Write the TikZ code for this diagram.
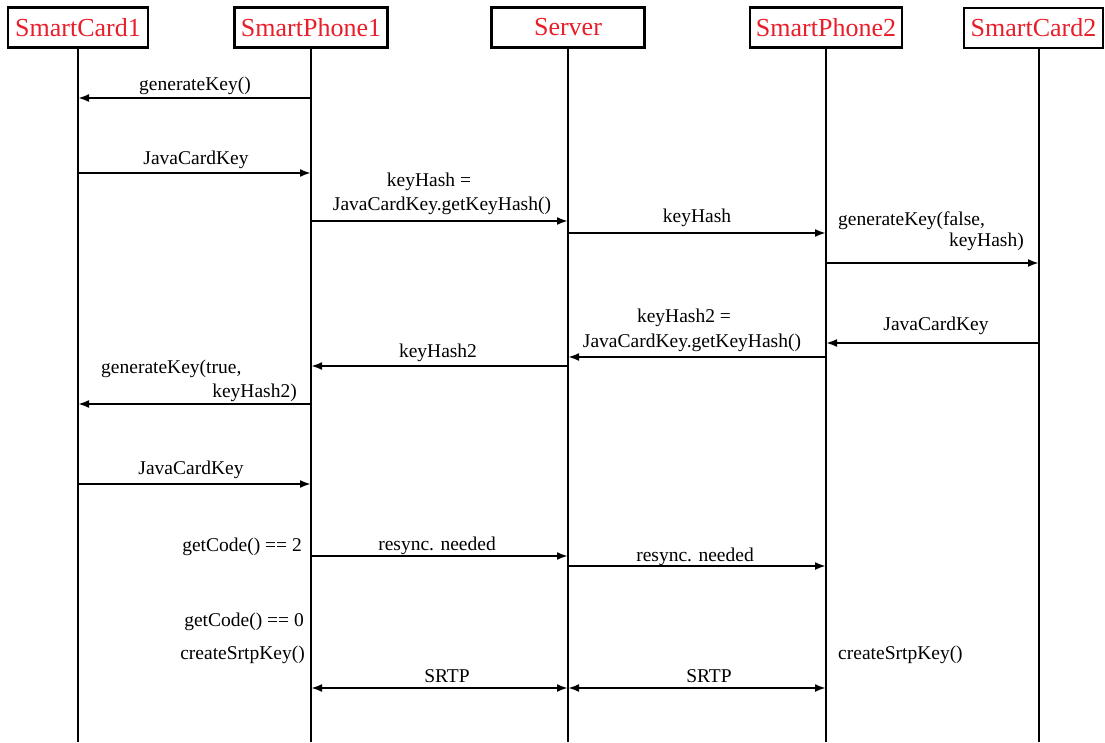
\documentclass[tikz,border=0pt]{standalone}
\usepackage{fontspec}
\setmainfont{Liberation Serif}
\usetikzlibrary{arrows.meta}
\definecolor{hdred}{RGB}{232,30,42}
\tikzset{
  actor/.style={draw, line width=2.4pt, minimum height=40pt, inner sep=0pt,
    text=hdred, font=\fontsize{26}{30}\selectfont},
  life/.style={line width=2.1pt},
  tip/.style={Latex[length=11pt,width=8pt]},
  msg/.style={line width=2.1pt, -{Latex[length=11pt,width=8pt]}},
  twoway/.style={line width=2.1pt, {Latex[length=11pt,width=8pt]}-{Latex[length=11pt,width=8pt]}},
  lbl/.style={font=\fontsize{19.5}{23}\selectfont, inner sep=0pt},
}
\begin{document}
\begin{tikzpicture}[x=1pt,y=-1pt]
\useasboundingbox (0,0) rectangle (1105,742);

% participants
\node[actor, minimum width=140pt] (sc1) at (78,27.5)   {SmartCard1};
\node[actor, minimum width=153pt] (sp1) at (311,27.5)  {SmartPhone1};
\node[actor, minimum width=153pt] (srv) at (568,27.5)  {Server};
\node[actor, minimum width=152pt] (sp2) at (826,27.5)  {SmartPhone2};
\node[actor, minimum width=139pt] (sc2) at (1033.5,28) {SmartCard2};

% lifeline tops
\coordinate (L1) at (sc1.south);
\coordinate (L2) at (sp1.south);
\coordinate (L3) at (srv.south);
\coordinate (L4) at (sp2.south);
\coordinate (L5) at (1039,48);

\foreach \l in {L1,L2,L3,L4,L5}
  \draw[life] (\l) -- (\l |- 0,742);

% key generation on side 1
\draw[msg] (L2 |- 0,98) -- (L1 |- 0,98);
\node[lbl, anchor=base] (m1) at (195,90) {generateKey()};

\draw[msg] (L1 |- 0,173) -- (L2 |- 0,173);
\node[lbl, anchor=base] (m2) at (196,164) {JavaCardKey};

\draw[msg] (L2 |- 0,221) -- (L3 |- 0,221);
\node[lbl, anchor=base] (m3a) at (429,186) {keyHash =};
\node[lbl, anchor=base] (m3b) at (442,210) {JavaCardKey.getKeyHash()};

\draw[msg] (L3 |- 0,233) -- (L4 |- 0,233);
\node[lbl, anchor=base] (m4) at (697,222) {keyHash};

% key generation on side 2
\draw[msg] (L4 |- 0,263) -- (L5 |- 0,263);
\node[lbl, anchor=base west] (m5a) at (838,225) {generateKey(false,};
\node[lbl, anchor=base east] (m5b) at (1024,246) {keyHash)};

\draw[msg] (L5 |- 0,343) -- (L4 |- 0,343);
\node[lbl, anchor=base] (m6) at (936,330) {JavaCardKey};

\draw[msg] (L4 |- 0,357) -- (L3 |- 0,357);
\node[lbl, anchor=base] (m7a) at (684,322) {keyHash2 =};
\node[lbl, anchor=base] (m7b) at (692,347) {JavaCardKey.getKeyHash()};

\draw[msg] (L3 |- 0,366) -- (L2 |- 0,366);
\node[lbl, anchor=base] (m8) at (438,357) {keyHash2};

\draw[msg] (L2 |- 0,404) -- (L1 |- 0,404);
\node[lbl, anchor=base west] (m9a) at (101,373) {generateKey(true,};
\node[lbl, anchor=base east] (m9b) at (297,397) {keyHash2)};

\draw[msg] (L1 |- 0,484) -- (L2 |- 0,484);
\node[lbl, anchor=base] (m10) at (191,474) {JavaCardKey};

% resynchronisation
\node[lbl, anchor=base east] (c2) at (302,551) {getCode() == 2};
\draw[msg] (L2 |- 0,556) -- (L3 |- 0,556);
\node[lbl, anchor=base] (m11) at (437,550) {resync. needed};

\draw[msg] (L3 |- 0,566) -- (L4 |- 0,566);
\node[lbl, anchor=base] (m12) at (695,561) {resync. needed};

% SRTP session
\node[lbl, anchor=base east] (c0) at (304,626) {getCode() == 0};
\node[lbl, anchor=base east] (k1) at (305,659) {createSrtpKey()};
\node[lbl, anchor=base west] (k2) at (838,659) {createSrtpKey()};

\draw[twoway] (L2 |- 0,688) -- (L3 |- 0,688);
\node[lbl, anchor=base] (s1) at (447,682) {SRTP};
\draw[twoway] (L3 |- 0,688) -- (L4 |- 0,688);
\node[lbl, anchor=base] (s2) at (709,682) {SRTP};
\end{tikzpicture}
\end{document}
